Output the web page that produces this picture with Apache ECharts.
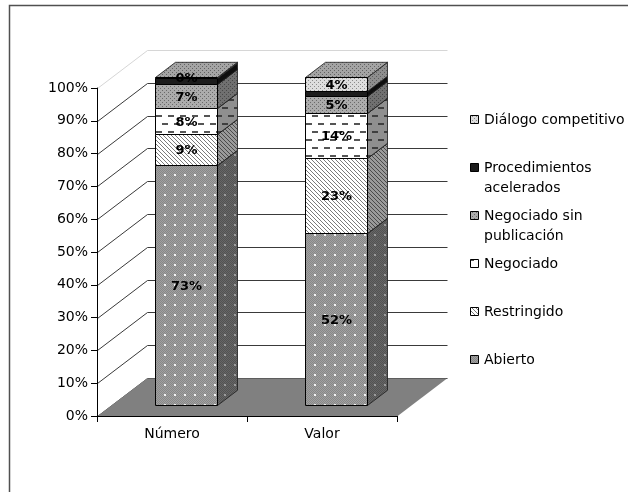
<!DOCTYPE html>
<html>
<head>
<meta charset="utf-8">
<script src="https://cdn.jsdelivr.net/npm/echarts@6/dist/echarts.min.js"></script>
<style>html,body{margin:0;padding:0;background:#fff}#chart{width:628px;height:492px}</style>
</head>
<body>
<div id="chart"></div>
<script>
// ---------- data ----------
const categories = ['Número', 'Valor'];
const seriesNames = ['Abierto', 'Restringido', 'Negociado', 'Negociado sin publicación', 'Procedimientos acelerados', 'Diálogo competitivo'];
const legendLabels = ['Abierto', 'Restringido', 'Negociado', 'Negociado sin\npublicación', 'Procedimientos\nacelerados', 'Diálogo competitivo'];
const abierto = [73.4, 52.4];
const restringido = [9.2, 23.0];
const negociado = [8.1, 13.8];
const negociadoSinPublicacion = [7.4, 5.2];
const acelerados = [1.6, 1.4];
const dialogo = [0.3, 4.2];
const showLabel = [true, true, true, true, false, true];
const yTicks = [0, 10, 20, 30, 40, 50, 60, 70, 80, 90, 100];

const seriesValues = [abierto, restringido, negociado, negociadoSinPublicacion, acelerados, dialogo];

// ---------- style constants ----------
const FONT = 'DejaVu Sans';
const DX = 50, DY = -38;          // depth of the 3D box
const F1 = 0.28, F2 = 0.68;       // bar front / back depth fraction
const BAR_RATIO = 0.413;

function mk(w, h, bg, fn) {
  const c = document.createElement('canvas');
  c.width = w; c.height = h;
  const g = c.getContext('2d');
  g.fillStyle = bg; g.fillRect(0, 0, w, h);
  if (fn) fn(g);
  return { image: c, repeat: 'repeat' };
}
function checker(g, w, h, color) {
  g.fillStyle = color;
  for (let y = 0; y < h; y++) for (let x = 0; x < w; x++) if ((x + y) % 2 === 0) g.fillRect(x, y, 1, 1);
}
function dots(g, color, pts) { g.fillStyle = color; pts.forEach(p => g.fillRect(p[0], p[1], p[2] || 1, p[3] || 1)); }
function diag(g, color) { g.fillStyle = color; for (let i = 0; i < 4; i++) g.fillRect(i, i, 1, 1); }
function dashes(g, color) { g.fillStyle = color; g.fillRect(0, 3, 6, 2); g.fillRect(6, 11, 6, 2); }

const faces = [
  { // Abierto
    front: mk(10, 10, '#a0a0a0', g => { checker(g, 10, 10, '#888888'); dots(g, '#f4f4f4', [[4, 4, 2, 2]]); }),
    side: mk(10, 10, '#666666', g => { checker(g, 10, 10, '#525252'); dots(g, '#9a9a9a', [[4, 4, 2, 2]]); }),
    top: mk(10, 10, '#8a8a8a', g => { checker(g, 10, 10, '#777'); dots(g, '#ccc', [[4, 4, 2, 2]]); })
  },
  { // Restringido
    front: mk(4, 4, '#ffffff', g => diag(g, '#7a7a7a')),
    side: mk(4, 4, '#9a9a9a', g => diag(g, '#4a4a4a')),
    top: mk(4, 4, '#cccccc', g => diag(g, '#777'))
  },
  { // Negociado
    front: mk(12, 16, '#ffffff', g => dashes(g, '#555555')),
    side: mk(12, 16, '#8f8f8f', g => dashes(g, '#3f3f3f')),
    top: mk(12, 16, '#cfcfcf', g => dashes(g, '#666'))
  },
  { // Negociado sin publicación
    front: mk(4, 4, '#acacac', g => dots(g, '#6a6a6a', [[0, 0], [2, 2]])),
    side: mk(4, 4, '#707070', g => dots(g, '#484848', [[0, 0], [2, 2]])),
    top: mk(4, 4, '#959595', g => dots(g, '#5a5a5a', [[0, 0], [2, 2]]))
  },
  { // Procedimientos acelerados
    front: '#1c1c1c', side: '#0e0e0e', top: '#333333'
  },
  { // Diálogo competitivo
    front: mk(4, 4, '#dedede', g => dots(g, '#8c8c8c', [[0, 0], [2, 2]])),
    side: mk(4, 4, '#8e8e8e', g => dots(g, '#5e5e5e', [[0, 0], [2, 2]])),
    top: mk(4, 4, '#a4a4a4', g => dots(g, '#626262', [[0, 0], [2, 2]]))
  }
];

// ---------- stacked data ----------
const stackData = seriesValues.map(() => []);
categories.forEach((c, ci) => {
  let acc = 0;
  seriesValues.forEach((arr, si) => {
    stackData[si].push([ci, acc, acc + arr[ci], arr[ci]]);
    acc += arr[ci];
  });
});

function barRender(si) {
  return function (params, api) {
    const ci = api.value(0), base = api.value(1), top = api.value(2), val = api.value(3);
    const p0 = api.coord([ci, base]), p1 = api.coord([ci, top]);
    const band = api.size([1, 0])[0];
    const hw = band * BAR_RATIO / 2;
    const fx = DX * F1, fy = DY * F1;
    const dX = DX * (F2 - F1), dY = DY * (F2 - F1);
    const xL = Math.round(p0[0] - hw + fx) + 0.5, xR = Math.round(p0[0] + hw + fx) + 0.5;
    const yB = Math.round(p0[1] + fy) + 0.5, yT = Math.round(p1[1] + fy) + 0.5;
    const f = faces[si];
    const children = [
      { type: 'polygon', shape: { points: [[xR, yT], [xR + dX, yT + dY], [xR + dX, yB + dY], [xR, yB]] },
        style: { fill: f.side, stroke: '#1a1a1a', lineWidth: 0.8 } },
      { type: 'polygon', shape: { points: [[xL, yT], [xR, yT], [xR + dX, yT + dY], [xL + dX, yT + dY]] },
        style: { fill: f.top, stroke: '#1a1a1a', lineWidth: 0.8 } },
      { type: 'polygon', shape: { points: [[xL, yT], [xR, yT], [xR, yB], [xL, yB]] },
        style: { fill: f.front, stroke: '#000', lineWidth: 1 } }
    ];
    if (showLabel[si]) {
      children.push({ type: 'text', z2: 100,
        style: { text: Math.round(val) + '%', x: (xL + xR) / 2, y: (yT + yB) / 2 + 1,
          align: 'center', verticalAlign: 'middle', fill: '#000',
          font: 'bold 13px "' + FONT + '"' } });
    }
    return { type: 'group', children };
  };
}

function wallRender(params, api) {
  const v = api.value(1);
  const cs = params.coordSys;
  const y = Math.round(api.coord([0, v])[1]) + 0.5;
  const x0 = Math.round(cs.x) + 0.5, x1 = Math.round(cs.x + cs.width) + 0.5;
  const color = v === 100 ? '#d6d6d6' : '#3a3a3a';
  return { type: 'group', children: [
    { type: 'line', shape: { x1: x0, y1: y, x2: x0 + DX, y2: y + DY }, style: { stroke: color, lineWidth: 1 } },
    { type: 'line', shape: { x1: x0 + DX, y1: y + DY, x2: x1 + DX, y2: y + DY }, style: { stroke: color, lineWidth: 1 } }
  ] };
}

function floorRender(params, api) {
  const cs = params.coordSys;
  const y0 = Math.round(api.coord([0, 0])[1]) + 0.5;
  const xa = cs.x, xb = cs.x + cs.width;
  return { type: 'polygon',
    shape: { points: [[xa, y0], [xb, y0], [xb + DX, y0 + DY], [xa + DX, y0 + DY]] },
    style: { fill: '#808080' } };
}

// ---------- legend (graphic) ----------
const legendGraphics = [];
const order = [5, 4, 3, 2, 1, 0];
order.forEach((si, k) => {
  const cy = 120 + k * 48;
  legendGraphics.push({ type: 'rect', shape: { x: 470.5, y: cy - 4.5, width: 8, height: 8 },
    style: { fill: faces[si].front, stroke: '#000', lineWidth: 1 } });
  legendGraphics.push({ type: 'text', x: 484, y: cy - 10,
    style: { text: legendLabels[si], fill: '#000', font: '14px "' + FONT + '"', lineHeight: 20, verticalAlign: 'top' } });
});
legendGraphics.push({ type: 'rect', shape: { x: 9.5, y: 5.5, width: 700, height: 600 },
  style: { fill: 'none', stroke: '#505050', lineWidth: 1.5 }, silent: true });

const chart = echarts.init(document.getElementById('chart'), null, { renderer: 'canvas' });
chart.setOption({
  animation: false,
  backgroundColor: '#ffffff',
  grid: { left: 97, right: 231, top: 88, bottom: 76, outerBoundsMode: 'none', containLabel: false },
  xAxis: {
    type: 'category', data: categories, z: 10,
    axisLine: { lineStyle: { color: '#000', width: 1 } },
    axisTick: { show: true, length: 6, lineStyle: { color: '#000' } },
    axisLabel: { color: '#000', fontSize: 14, fontFamily: FONT, margin: 11 },
    splitLine: { show: false }
  },
  yAxis: {
    type: 'value', min: 0, max: 100, interval: 10, z: 10,
    axisLine: { show: true, lineStyle: { color: '#000', width: 1 } },
    axisTick: { show: true, length: 6, lineStyle: { color: '#000' } },
    axisLabel: { color: '#000', fontSize: 14, fontFamily: FONT, margin: 9, formatter: '{value}%' },
    splitLine: { show: false }
  },
  graphic: legendGraphics,
  series: [
    { type: 'custom', name: 'walls', z: 1, clip: false, silent: true,
      data: yTicks.map(v => [0, v]), renderItem: wallRender },
    { type: 'custom', name: 'floor', z: 2, clip: false, silent: true,
      data: [[0, 0]], renderItem: floorRender }
  ].concat(seriesNames.map((name, si) => ({
    type: 'custom', name, z: 3 + si, clip: false,
    encode: { x: 0, y: [1, 2] },
    data: stackData[si], renderItem: barRender(si)
  })))
});
</script>
</body>
</html>
